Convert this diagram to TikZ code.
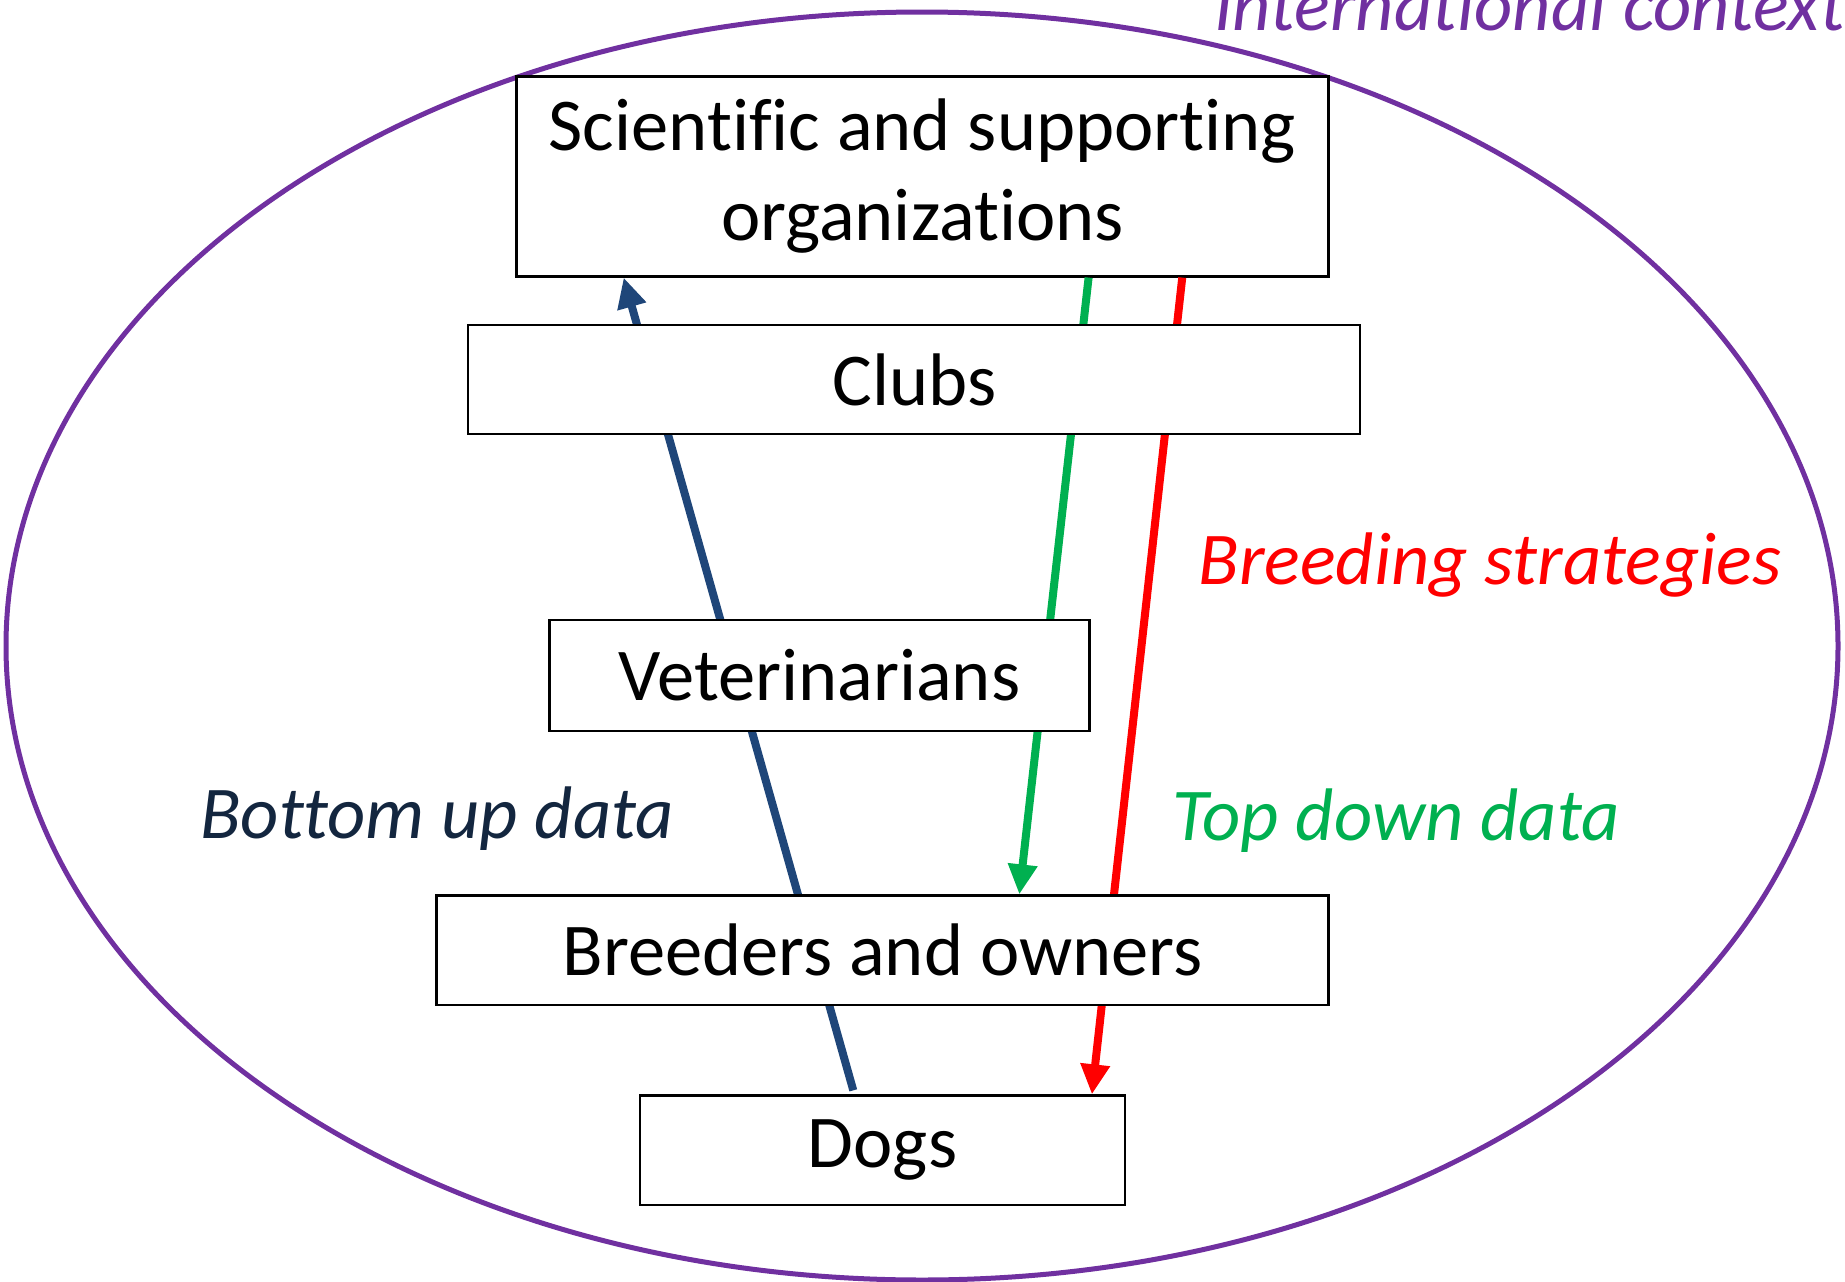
\documentclass[tikz,border=0pt]{standalone}
\usepackage{fontspec}
\setmainfont{Carlito}[RawFeature={-liga,-clig,-dlig}]
\usetikzlibrary{arrows.meta,calc}
\definecolor{ctxpurple}{HTML}{7030A0}
\definecolor{arrblue}{HTML}{1F4679}
\definecolor{txtblue}{HTML}{13263F}
\definecolor{arrgreen}{HTML}{00B050}
\definecolor{arrred}{HTML}{FF0000}
\tikzset{
  box/.style={draw=black, line width=2.2pt, fill=white, inner sep=0pt, align=center,
    font=\fontsize{74.5}{90}\selectfont},
  flow/.style={line width=8pt, -{Triangle[length=30pt,width=28pt]}},
  lab/.style={font=\fontsize{74.5}{90}\selectfont\itshape, inner sep=0pt}
}
\begin{document}
\begin{tikzpicture}[x=1pt,y=-1pt]
\useasboundingbox (0,0) rectangle (1845,1282);
\draw[ctxpurple, line width=5pt] (922,646) ellipse [x radius=916, y radius=634];
\node[lab, text=ctxpurple, anchor=base west] (ctx) at (1214,30) {International context};
\path node[box, minimum width=812pt, minimum height=200pt] (sci) at (922.5,176.5) {Scientific and supporting\\organizations}
      node[box, minimum width=892pt, minimum height=109.4pt] (clubs) at (914.3,379.5) {Clubs}
      node[box, minimum width=540pt, minimum height=110.6pt] (vets) at (819.5,675.4) {Veterinarians}
      node[box, minimum width=892pt, minimum height=109.4pt] (breed) at (882.5,950.2) {Breeders and owners}
      node[box, minimum width=484.8pt, minimum height=109.5pt] (dogs) at (882.5,1150.2) {Dogs};
% arrows
\draw[flow, arrblue] ($(dogs.north west)!0.44!(dogs.north east)+(0,-4)$) -- ($(sci.south west)!0.133!(sci.south east)$);
\draw[flow, arrgreen] ($(sci.south west)!0.704!(sci.south east)$) -- ($(breed.north west)!0.653!(breed.north east)$);
\draw[flow, arrred] ($(sci.south west)!0.819!(sci.south east)$) -- ($(dogs.north west)!0.93!(dogs.north east)$);
% boxes drawn again on top of the arrows
\node[box, minimum width=892pt, minimum height=109.4pt] at (clubs) {Clubs};
\node[box, minimum width=540pt, minimum height=110.6pt] at (vets) {Veterinarians};
\node[box, minimum width=892pt, minimum height=109.4pt] at (breed) {Breeders and owners};
% labels
\node[lab, text=arrred] (bs) at (1490,565) {Breeding strategies};
\node[lab, text=arrgreen] (td) at (1396,821) {Top down data};
\node[lab, text=txtblue] (bu) at (437,819) {Bottom up data};
\end{tikzpicture}
\end{document}
